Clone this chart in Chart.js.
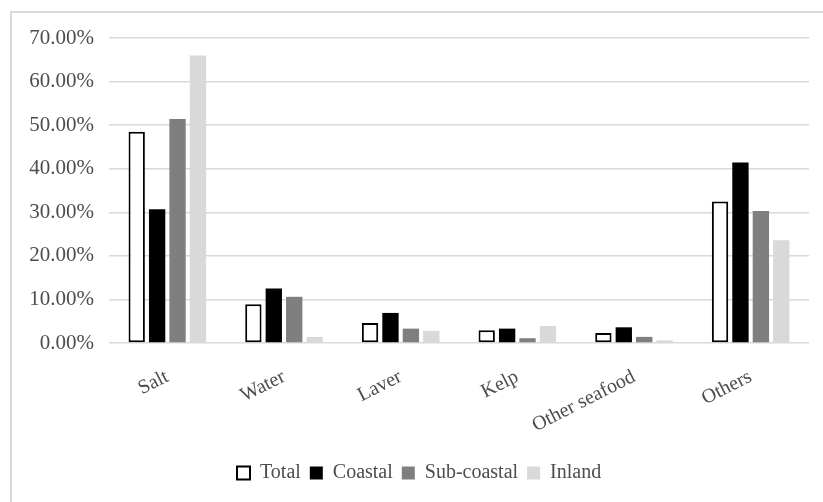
<!DOCTYPE html>
<html>
<head>
<meta charset="utf-8">
<script src="https://cdn.jsdelivr.net/npm/chart.js@4/dist/chart.umd.min.js"></script>
<style>
  html, body { margin: 0; padding: 0; background: #fff; }
  #wrap { position: relative; width: 823px; height: 502px; overflow: hidden; }
  #frame { position: absolute; left: 10px; top: 11px; width: 830px; height: 510px; border: 2px solid #d9d9d9; box-sizing: border-box; }
  #c { position: absolute; left: 0; top: 0; }
</style>
</head>
<body>
<div id="wrap">
  <div id="frame"></div>
  <canvas id="c" width="823" height="502"></canvas>
</div>
<script>
const categories = ['Salt', 'Water', 'Laver', 'Kelp', 'Other seafood', 'Others'];
const seriesNames = ['Total', 'Coastal', 'Sub-coastal', 'Inland'];
const totalValues = [48.5, 8.9, 4.6, 2.9, 2.3, 32.5];
const coastalValues = [30.7, 12.5, 6.9, 3.3, 3.6, 41.4];
const subCoastalValues = [51.4, 10.6, 3.3, 1.1, 1.4, 30.3];
const inlandValues = [66.0, 1.4, 2.8, 3.9, 0.6, 23.6];
const yTicks = [0, 10, 20, 30, 40, 50, 60, 70];

const serif = "'Liberation Serif', 'Times New Roman', serif";

const legendShift = {
  id: 'legendShift',
  beforeDraw(chart) {
    const lg = chart.legend;
    if (!lg) return;
    const w = lg.right - lg.left, h = lg.bottom - lg.top;
    const p = lg.options.labels.padding;
    lg.left = 237 - p; lg.right = lg.left + w;
    lg.top = 473 - p - 10; lg.bottom = lg.top + h;
  }
};

new Chart(document.getElementById('c'), {
  type: 'bar',
  data: {
    labels: categories,
    datasets: [
      { label: seriesNames[0], data: totalValues, backgroundColor: '#ffffff', borderColor: '#000000', borderWidth: 2, borderSkipped: false },
      { label: seriesNames[1], data: coastalValues, backgroundColor: '#000000', borderColor: '#000000', borderWidth: 0 },
      { label: seriesNames[2], data: subCoastalValues, backgroundColor: '#7f7f7f', borderColor: '#7f7f7f', borderWidth: 0 },
      { label: seriesNames[3], data: inlandValues, backgroundColor: '#d9d9d9', borderColor: '#d9d9d9', borderWidth: 0 }
    ]
  },
  options: {
    responsive: false,
    animation: false,
    layout: { padding: { left: 10, right: 14, top: 38, bottom: 0 } },
    datasets: { bar: { categoryPercentage: 0.7, barPercentage: 0.8 } },
    scales: {
      x: {
        grid: { display: false },
        border: { display: false },
        ticks: {
          color: '#4d4d4d',
          font: { family: serif, size: 20 },
          minRotation: 27, maxRotation: 27,
          padding: 14
        },
        afterFit(s) { s.height = s.chart.height - 343 - (s.chart.legend ? s.chart.legend.height : 0); }
      },
      y: {
        min: 0, max: 70,
        afterBuildTicks(s) { s.ticks = yTicks.map(v => ({ value: v })); },
        grid: { color: '#d9d9d9', lineWidth: 1.5, drawTicks: false },
        border: { display: false },
        ticks: {
          color: '#4d4d4d',
          font: { family: serif, size: 21 },
          padding: 15,
          callback: v => v.toFixed(2) + '%'
        },
        afterFit(s) { s.width = 99; }
      }
    },
    plugins: {
      legend: {
        position: 'bottom',
        align: 'start',
        labels: {
          color: '#4d4d4d',
          font: { family: serif, size: 20 },
          boxWidth: 13, boxHeight: 13,
          padding: 9
        }
      },
      tooltip: { enabled: false }
    }
  },
  plugins: [legendShift]
});
</script>
</body>
</html>
